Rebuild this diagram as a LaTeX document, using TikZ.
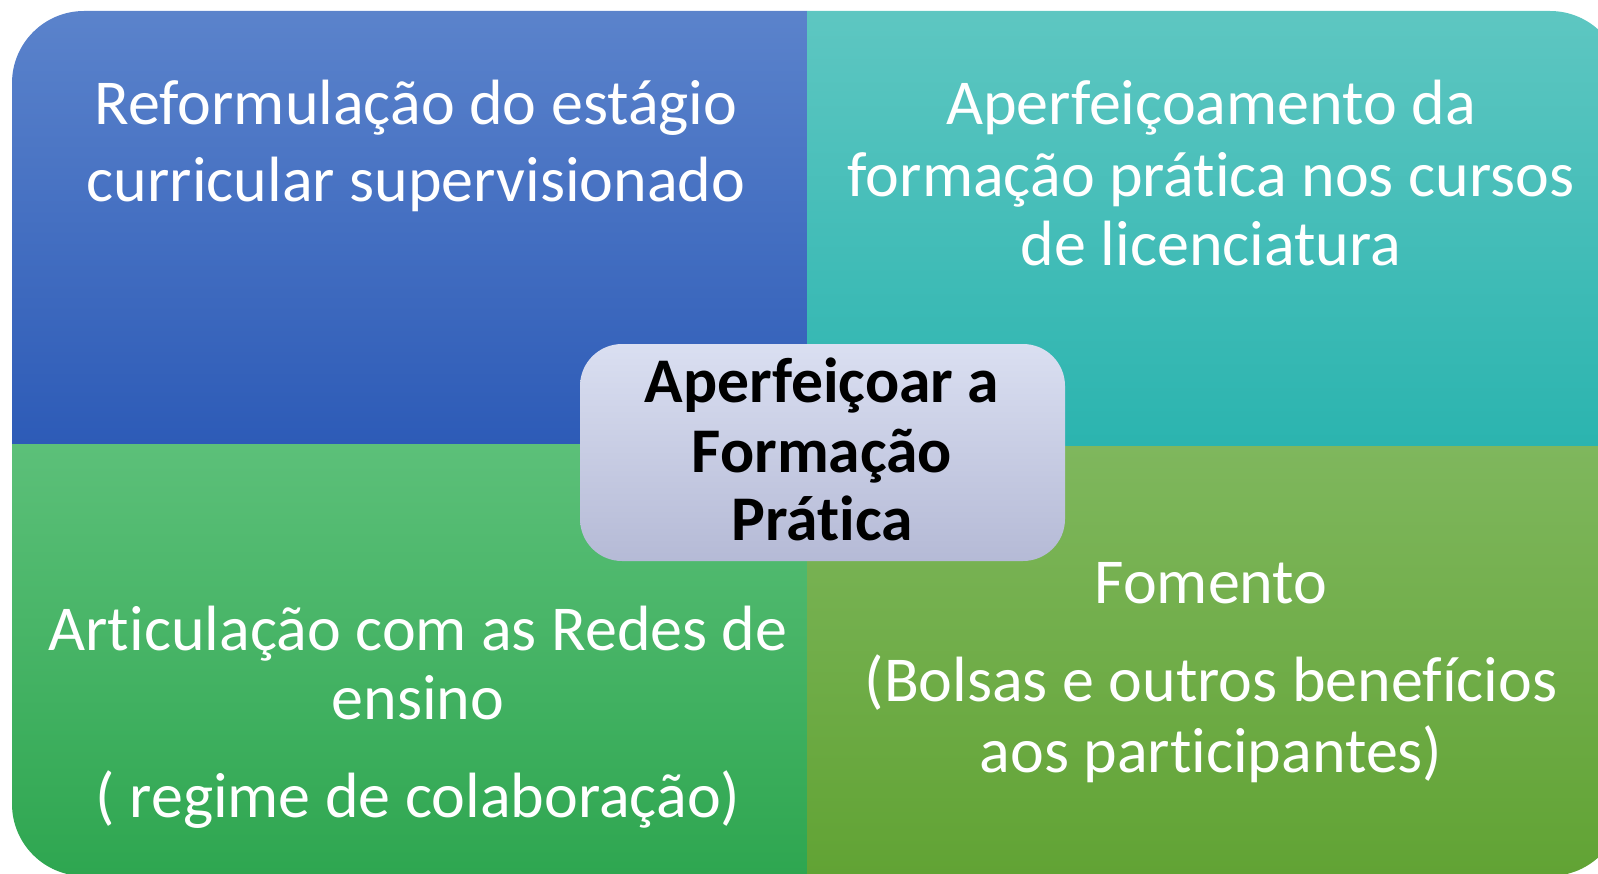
\documentclass[tikz,border=0pt]{standalone}
\usepackage{fontspec}
\setmainfont[Ligatures=NoCommon]{Carlito}
\definecolor{tlT}{RGB}{92,132,204}
\definecolor{tlB}{RGB}{45,91,183}
\definecolor{trT}{RGB}{95,199,194}
\definecolor{trB}{RGB}{43,180,175}
\definecolor{blT}{RGB}{92,192,121}
\definecolor{blB}{RGB}{46,166,80}
\definecolor{brT}{RGB}{127,183,93}
\definecolor{brB}{RGB}{97,163,52}
\definecolor{cT}{RGB}{218,223,241}
\definecolor{cB}{RGB}{181,186,214}
\tikzset{
  quadtext/.style={text=white, font=\fontsize{18.2}{22}\selectfont, anchor=base, inner sep=0pt},
  centertext/.style={text=black, font=\fontsize{18.1}{22}\selectfont\bfseries, anchor=base, inner sep=0pt}
}
\begin{document}
\begin{tikzpicture}[x=0.01cm,y=-0.01cm]
\useasboundingbox (0,0) rectangle (1598,873);
\begin{scope}
\clip (0,0) rectangle (1598,873);
\clip[rounded corners=0.72cm] (12,11) rectangle (1622,876);
\shade[top color=tlT,bottom color=tlB] (0,0) rectangle (807,444);
\shade[top color=trT,bottom color=trB] (807,0) rectangle (1622,446);
\shade[top color=blT,bottom color=blB] (0,444) rectangle (807,876);
\shade[top color=brT,bottom color=brB] (807,446) rectangle (1622,876);
\end{scope}
\shade[top color=cT,bottom color=cB,rounded corners=0.42cm] (580,344) rectangle (1065,561);
% top-left
\node[quadtext] (tl1) at (416,124) {Reformulação do estágio};
\node[quadtext] (tl2) at (416,202) {curricular supervisionado};
% top-right
\node[quadtext] (tr1) at (1211,124) {Aperfeiçoamento da};
\node[quadtext] (tr2) at (1211,196) {formação prática nos cursos};
\node[quadtext] (tr3) at (1211,265) {de licenciatura};
% bottom-left
\node[quadtext] (bl1) at (418,650) {Articulação com as Redes de};
\node[quadtext] (bl2) at (418,719) {ensino};
\node[quadtext] (bl3) at (418,817) {( regime de colaboração)};
% bottom-right
\node[quadtext] (br1) at (1211,603) {Fomento};
\node[quadtext] (br2) at (1211,701) {(Bolsas e outros benefícios};
\node[quadtext] (br3) at (1211,772) {aos participantes)};
% center
\node[centertext] (c1) at (822,402) {Aperfeiçoar a};
\node[centertext] (c2) at (822,472) {Formação};
\node[centertext] (c3) at (822,540) {Prática};
\end{tikzpicture}
\end{document}
